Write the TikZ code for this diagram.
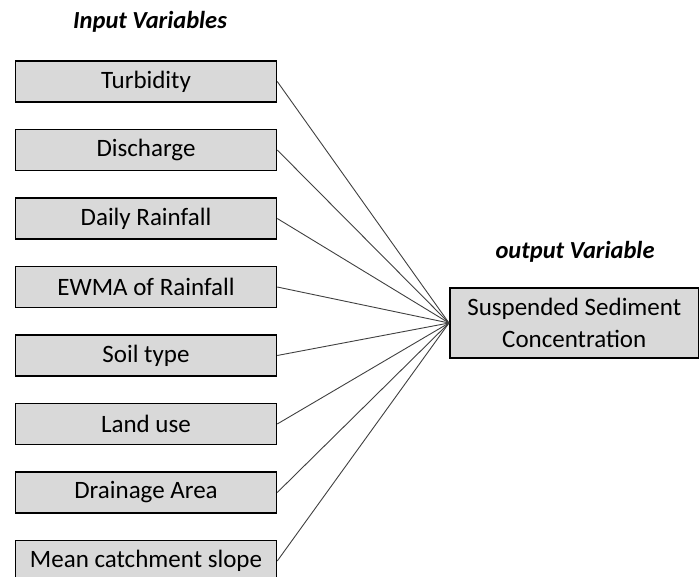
\documentclass[tikz,border=0pt]{standalone}
\usepackage{fontspec}
\setmainfont{Carlito}
\usetikzlibrary{positioning}

\begin{document}
\begin{tikzpicture}[x=1pt, y=-1pt]

% 样式
\tikzset{
  varbox/.style={draw=black, line width=1.5pt, fill=black!15, minimum width=261pt,
    minimum height=41pt, inner sep=0pt, font=\fontsize{25}{30}\selectfont},
  title/.style={font=\fontsize{24.5}{29}\selectfont\bfseries\itshape},
  link/.style={draw=black!75, line width=0.9pt}
}

% 画布范围
\useasboundingbox (0,0) rectangle (699,577);
\clip (0,0) rectangle (699,577);

% 标题
\node[title] (tin) at (150,22) {Input Variables};
\node[title] (tout) at (575,252) {output Variable};

% 输出变量
\node[varbox, minimum width=249pt, minimum height=70pt, align=center, anchor=west]
  (out) at (449,323) {Suspended Sediment\\[2pt]Concentration};

% 输入变量
\foreach \t [count=\i] in {Turbidity, Discharge, Daily Rainfall, EWMA of Rainfall,
  Soil type, Land use, Drainage Area, Mean catchment slope}
{
  \node[varbox] (in\i) at (146, {81.5+68.5*(\i-1)}) {\t};
  \draw[link] (in\i.east) -- (out.west); % 连线
}

\end{tikzpicture}
\end{document}
